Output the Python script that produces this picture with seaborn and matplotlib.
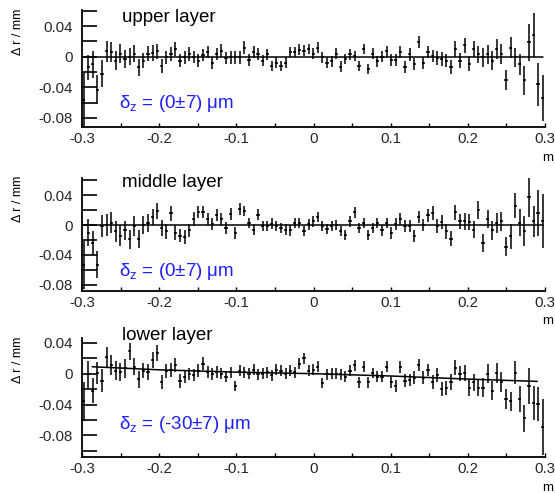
import numpy as np
import matplotlib
matplotlib.use("Agg")
import matplotlib.pyplot as plt
from matplotlib.ticker import MultipleLocator, FuncFormatter
import seaborn as sns

# bin centres along the wire (m)
x_bins = np.linspace(-0.298, 0.297, 101)

# residuals Delta r (mm)
upper_dr = [
    -0.056, -0.014, -0.010, -0.043, -0.022,
    0.007, 0.006, -0.005, 0.004, -0.003, 0.000, 0.004, -0.014, -0.005, 0.004,
    0.005, 0.007, -0.012, -0.001, 0.004, 0.010, -0.005, -0.001, 0.004, 0.000,
    -0.005, 0.002, 0.006, -0.008, 0.004, 0.008, -0.002, -0.001, -0.001, -0.001,
    0.012, -0.004, 0.006, 0.004, -0.005, 0.003, -0.012, -0.008,
    -0.012, -0.008, 0.006, 0.006, 0.009, 0.008, 0.010, 0.004, 0.012, -0.001,
    -0.008, -0.006, 0.004, -0.013, -0.003, 0.003, 0.001, -0.012, 0.010, -0.016,
    0.004, -0.006, 0.000, 0.007, -0.004, -0.004, 0.006, -0.013, 0.003, -0.010,
    0.019, -0.008, 0.006, 0.001, -0.002, -0.003, -0.005, -0.013, 0.010, -0.005,
    0.015, -0.009, 0.010, 0.003, -0.001, 0.003, -0.005, 0.010, 0.004, -0.030,
    0.012, -0.001, -0.010, -0.031, 0.019, 0.028, -0.036, -0.054,
]
upper_err = [
    0.035, 0.016, 0.018, 0.019, 0.018,
    0.014, 0.013, 0.013, 0.012, 0.012, 0.011, 0.011, 0.011, 0.010, 0.010,
    0.010, 0.010, 0.009, 0.009, 0.009, 0.009, 0.009, 0.009, 0.009, 0.008,
    0.008, 0.008, 0.008, 0.008, 0.008, 0.008, 0.008, 0.008, 0.008, 0.008,
    0.008, 0.008, 0.008, 0.008, 0.007, 0.007, 0.007, 0.007,
    0.007, 0.007, 0.007, 0.007, 0.007, 0.007, 0.007, 0.007, 0.007, 0.007,
    0.007, 0.007, 0.007, 0.007, 0.007, 0.007, 0.007, 0.007, 0.007, 0.007,
    0.007, 0.007, 0.007, 0.007, 0.008, 0.008, 0.008, 0.008, 0.008, 0.008,
    0.008, 0.008, 0.008, 0.008, 0.009, 0.009, 0.009, 0.009, 0.010, 0.010,
    0.010, 0.010, 0.011, 0.011, 0.012, 0.012, 0.012, 0.013, 0.013, 0.013,
    0.014, 0.013, 0.014, 0.019, 0.024, 0.029, 0.028, 0.030,
]

middle_dr = [
    -0.053, -0.010, -0.024, -0.053,
    -0.001, 0.000, 0.003, -0.008, -0.014, -0.007, -0.019, -0.001, -0.019, 0.000,
    0.003, 0.011, 0.019, -0.004, -0.008, 0.016, -0.010, -0.014, -0.016, -0.007,
    0.008, 0.018, 0.017, 0.008, 0.002, 0.014, 0.008, -0.004, 0.015, -0.010,
    0.021, 0.019, 0.003, -0.006, 0.014, -0.001, -0.001, 0.002, -0.001,
    -0.004, -0.006, -0.007, 0.003, 0.003, -0.008, 0.001, 0.005, 0.011, -0.001,
    -0.005, -0.001, 0.000, -0.008, -0.013, 0.005, 0.017, -0.004, 0.003, -0.013,
    -0.004, 0.003, -0.007, 0.003, -0.011, 0.002, 0.008, -0.001, -0.001, -0.014,
    0.011, 0.000, 0.013, 0.016, -0.001, 0.004, -0.008, -0.018, 0.017, 0.005,
    0.005, 0.004, -0.006, 0.020, -0.024, 0.008, -0.007, 0.003, 0.005, -0.029,
    -0.015, 0.026, 0.003, -0.008, 0.037, 0.005, 0.016, 0.005,
]
middle_err = [
    0.032, 0.018, 0.016, 0.018,
    0.015, 0.015, 0.014, 0.014, 0.014, 0.013, 0.013, 0.013, 0.012, 0.012,
    0.012, 0.011, 0.011, 0.011, 0.010, 0.010, 0.010, 0.009, 0.009, 0.009,
    0.009, 0.008, 0.008, 0.008, 0.008, 0.008, 0.008, 0.008, 0.008, 0.008,
    0.008, 0.007, 0.007, 0.007, 0.007, 0.007, 0.007, 0.007, 0.007,
    0.007, 0.007, 0.007, 0.007, 0.007, 0.007, 0.007, 0.007, 0.007, 0.007,
    0.007, 0.007, 0.007, 0.007, 0.007, 0.007, 0.007, 0.007, 0.007, 0.007,
    0.007, 0.007, 0.007, 0.007, 0.008, 0.008, 0.008, 0.008, 0.008, 0.008,
    0.008, 0.008, 0.009, 0.009, 0.009, 0.009, 0.010, 0.010, 0.010, 0.010,
    0.011, 0.011, 0.011, 0.012, 0.012, 0.012, 0.013, 0.013, 0.013, 0.013,
    0.017, 0.017, 0.018, 0.020, 0.026, 0.021, 0.031, 0.036,
]

lower_dr = [
    -0.036, -0.001, -0.022, 0.001, -0.009,
    0.022, 0.011, 0.004, 0.002, 0.007, 0.029, 0.009, -0.007, 0.004, 0.002,
    0.018, 0.027, -0.011, 0.004, 0.005, 0.011, -0.009, -0.004, 0.000, -0.002,
    0.004, 0.013, 0.002, 0.000, 0.002, 0.000, -0.004, 0.002, -0.016, 0.004,
    0.002, 0.000, 0.005, -0.001, 0.000, 0.002, -0.002, 0.005,
    0.004, 0.000, 0.004, 0.002, 0.013, 0.020, 0.004, 0.005, 0.009, -0.012,
    -0.001, 0.000, 0.000, -0.001, -0.004, 0.004, 0.011, -0.011, 0.009, -0.011,
    0.001, -0.004, -0.004, 0.009, -0.011, -0.016, 0.009, -0.009, -0.008, -0.005,
    0.011, -0.005, 0.005, -0.011, -0.002, -0.020, -0.019, -0.011, 0.008, 0.000,
    0.001, -0.018, -0.011, -0.018, -0.018, 0.000, -0.022, 0.001, -0.011, -0.033,
    -0.036, 0.001, -0.033, -0.058, -0.016, -0.038, -0.039, -0.069,
]
lower_err = [
    0.025, 0.018, 0.016, 0.014, 0.015,
    0.013, 0.013, 0.012, 0.012, 0.012, 0.011, 0.011, 0.011, 0.010, 0.010,
    0.010, 0.010, 0.009, 0.009, 0.009, 0.009, 0.009, 0.008, 0.008, 0.008,
    0.008, 0.008, 0.008, 0.008, 0.008, 0.007, 0.007, 0.007, 0.007, 0.007,
    0.007, 0.007, 0.007, 0.007, 0.007, 0.007, 0.007, 0.007,
    0.007, 0.007, 0.007, 0.007, 0.007, 0.007, 0.007, 0.007, 0.007, 0.007,
    0.007, 0.007, 0.007, 0.007, 0.007, 0.007, 0.007, 0.007, 0.007, 0.007,
    0.007, 0.007, 0.007, 0.007, 0.008, 0.008, 0.008, 0.008, 0.008, 0.008,
    0.008, 0.008, 0.008, 0.009, 0.009, 0.009, 0.009, 0.010, 0.010, 0.010,
    0.010, 0.011, 0.011, 0.011, 0.012, 0.012, 0.012, 0.013, 0.013, 0.013,
    0.012, 0.015, 0.017, 0.018, 0.023, 0.022, 0.022, 0.036,
]

# fitted curves
upper_fit_x = [-0.298, 0.297]
upper_fit_y = [0.0, 0.0]
middle_fit_x = [-0.298, 0.297]
middle_fit_y = [0.0, 0.0]
lower_fit_x = [-0.287, -0.2, -0.1, 0.0, 0.1, 0.2, 0.29]
lower_fit_y = [0.009, 0.005, 0.002, 0.0, -0.003, -0.007, -0.010]

titles = ["upper layer", "middle layer", "lower layer"]
shift_labels = ["(0±7) μm", "(0±7) μm", "(-30±7) μm"]

sns.set_theme(style="ticks")
plt.rcParams["font.family"] = ["Liberation Sans", "DejaVu Sans"]
plt.rcParams["mathtext.fontset"] = "custom"
plt.rcParams["mathtext.rm"] = "Liberation Sans"
plt.rcParams["axes.unicode_minus"] = False

fig = plt.figure(figsize=(5.55, 4.93), dpi=100)

panels = [
    (upper_dr, upper_err, upper_fit_x, upper_fit_y, [0.148, 0.742, 0.834, 0.237], (-0.092, 0.0605), 0.94, 0.205),
    (middle_dr, middle_err, middle_fit_x, middle_fit_y, [0.148, 0.410, 0.834, 0.229], (-0.088, 0.063), 0.956, 0.168),
    (lower_dr, lower_err, lower_fit_x, lower_fit_y, [0.148, 0.073, 0.834, 0.241], (-0.108, 0.046), 1.025, 0.27),
]

fmt_y = FuncFormatter(lambda v, p: "0" if abs(v) < 1e-9 else f"{v:.2f}")
fmt_x = FuncFormatter(lambda v, p: "0" if abs(v) < 1e-9 else f"{v:.1f}")

for k, (dr, err, fx, fy, pos, ylim, ty, sy) in enumerate(panels):
    ax = fig.add_axes(pos)
    ax.errorbar(x_bins, dr, yerr=err, xerr=0.0021, fmt="none",
                ecolor="black", elinewidth=1.1, capsize=0)
    sns.scatterplot(x=x_bins, y=dr, ax=ax, color="black", s=3,
                    marker="s", linewidth=0)
    sns.lineplot(x=fx, y=fy, ax=ax, color="black", linewidth=1.1)

    ax.set_xlim(-0.3, 0.3)
    ax.set_ylim(*ylim)
    ax.set_xlabel("")
    ax.set_ylabel("")
    for side in ["top", "right"]:
        ax.spines[side].set_visible(False)
    for side in ["left", "bottom"]:
        ax.spines[side].set_linewidth(1.3)
        ax.spines[side].set_color("black")

    ax.yaxis.set_major_locator(MultipleLocator(0.04))
    ax.yaxis.set_minor_locator(MultipleLocator(0.02))
    ax.xaxis.set_major_locator(MultipleLocator(0.1))
    ax.xaxis.set_minor_locator(MultipleLocator(0.05))
    ax.yaxis.set_major_formatter(fmt_y)
    ax.xaxis.set_major_formatter(fmt_x)
    ax.tick_params(axis="y", which="both", direction="in", length=11,
                   width=1.2, color="black", labelsize=10.8, pad=7)
    ax.tick_params(axis="x", which="both", direction="in", length=3,
                   width=1.0, color="black", labelsize=10.8, pad=3.5)

    ax.text(0.086, ty, titles[k], transform=ax.transAxes, fontsize=13.5,
            va="center", ha="left", color="black")
    ax.text(0.080, sy, "δ$_{\\mathrm{z}}$ = " + shift_labels[k],
            transform=ax.transAxes, fontsize=13.5, va="center", ha="left",
            color="#1f1fff")
    ax.text(-0.138, 1.017, "Δ r / mm", transform=ax.transAxes, rotation=90,
            fontsize=9, ha="center", va="top", color="black")
    ax.text(0.994, -0.265, "m", transform=ax.transAxes, fontsize=9.5,
            ha="left", va="center", color="black")

fig.savefig("out.png", dpi=100)
